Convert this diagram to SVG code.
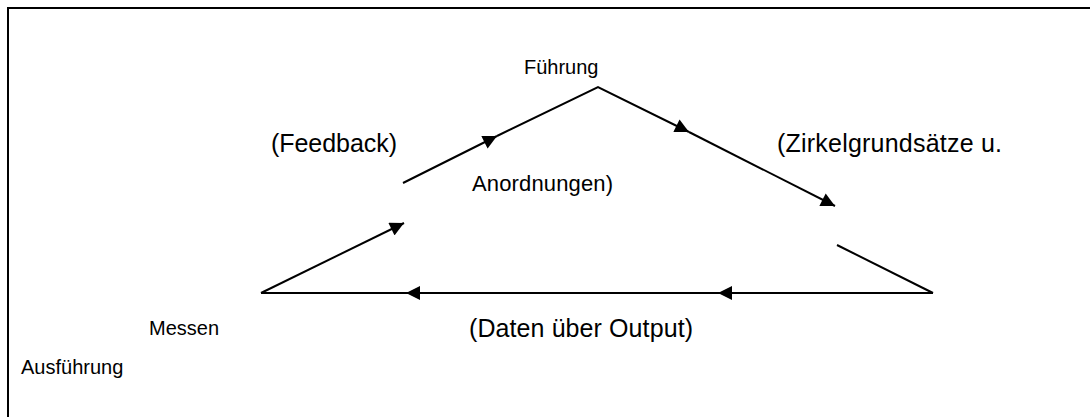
<svg xmlns="http://www.w3.org/2000/svg" width="1090" height="417" viewBox="0 0 1090 417">
<style>
text{font-family:"Liberation Sans",Arial,sans-serif;font-size:20px;fill:#000}
.big{font-size:25px}
.mid{font-size:22px}
.ln{stroke:#000;stroke-width:2;fill:none}
</style>
<defs>
<marker id="ah" viewBox="0 0 10 10" refX="10" refY="5" markerWidth="7.5" markerHeight="7" markerUnits="strokeWidth" orient="auto">
<path d="M0,0 L10,5 L0,10 Z" fill="#000"/>
</marker>
</defs>
<rect x="8" y="8" width="1100" height="420" fill="#fff" stroke="#000" stroke-width="2"/>
<g id="connectors">
<line class="ln" x1="403" y1="183" x2="497" y2="136" marker-end="url(#ah)"/>
<polyline class="ln" points="497,136 598,87 689,132" marker-end="url(#ah)"/>
<line class="ln" x1="689" y1="132" x2="835" y2="206" marker-end="url(#ah)"/>
<line class="ln" x1="837" y1="245" x2="933" y2="293"/>
<line class="ln" x1="933" y1="293" x2="718" y2="293" marker-end="url(#ah)"/>
<line class="ln" x1="718" y1="293" x2="406" y2="293" marker-end="url(#ah)"/>
<line class="ln" x1="406" y1="293" x2="261" y2="293"/>
<line class="ln" x1="261" y1="293" x2="404" y2="223" marker-end="url(#ah)"/>
</g>
<g id="fuehrung"><text x="524" y="74">Führung</text></g>
<g id="feedback"><text class="big" x="271" y="152" textLength="126">(Feedback)</text></g>
<g id="zirkel"><text class="big" x="777" y="152" textLength="225">(Zirkelgrundsätze u.</text></g>
<g id="anordnungen"><text class="mid" x="472" y="191" textLength="141">Anordnungen)</text></g>
<g id="messen"><text x="149" y="335">Messen</text></g>
<g id="daten"><text class="big" x="469" y="337" textLength="224">(Daten über Output)</text></g>
<g id="ausfuehrung"><text x="21" y="374">Ausführung</text></g>
</svg>
